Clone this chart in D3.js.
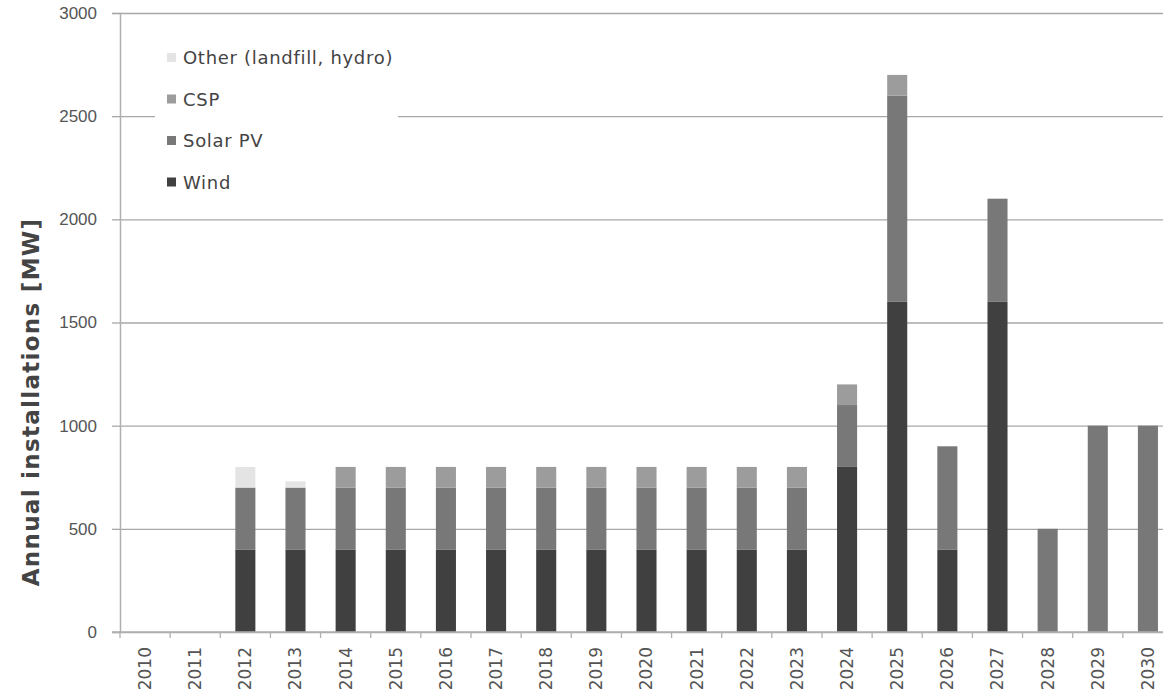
<!DOCTYPE html>
<html>
<head>
<meta charset="utf-8">
<script src="https://cdn.jsdelivr.net/npm/d3@7/dist/d3.min.js"></script>
<style>
  html, body { margin: 0; padding: 0; background: #fff; }
  svg { display: block; font-family: "DejaVu Sans", "Noto Sans", sans-serif; }
</style>
</head>
<body>
<svg id="chart" width="1163" height="697"></svg>
<script>
const years = ["2010","2011","2012","2013","2014","2015","2016","2017","2018","2019","2020",
               "2021","2022","2023","2024","2025","2026","2027","2028","2029","2030"];
const wind    = [0, 0, 400, 400, 400, 400, 400, 400, 400, 400, 400, 400, 400, 400, 800, 1600, 400, 1600, 0, 0, 0];
const solarPV = [0, 0, 300, 300, 300, 300, 300, 300, 300, 300, 300, 300, 300, 300, 300, 1000, 500, 500, 500, 1000, 1000];
const csp     = [0, 0, 0, 0, 100, 100, 100, 100, 100, 100, 100, 100, 100, 100, 100, 100, 0, 0, 0, 0, 0];
const other   = [0, 0, 100, 30, 0, 0, 0, 0, 0, 0, 0, 0, 0, 0, 0, 0, 0, 0, 0, 0, 0];
const seriesNames = ["Wind", "Solar PV", "CSP", "Other (landfill, hydro)"];
const seriesKeys = ["wind", "pv", "csp", "other"];
const seriesColors = ["#404040", "#787878", "#9c9c9c", "#e4e4e4"];
const yTicks = [0, 500, 1000, 1500, 2000, 2500, 3000];
const yLabel = "Annual installations [MW]";

const rows = years.map((y, i) => ({ year: y, wind: wind[i], pv: solarPV[i], csp: csp[i], other: other[i] }));
const stacked = d3.stack().keys(seriesKeys)(rows);

const svg = d3.select("#chart");
const x = d3.scaleBand().domain(years).range([120, 1173]).paddingInner(0.6).paddingOuter(0.3);
const xEdges = d3.scaleBand().domain(years).range([120, 1173]).padding(0);
const y = d3.scaleLinear().domain([0, 3000]).range([632, 13]);

// gridlines
svg.append("g")
  .attr("transform", "translate(120,0)")
  .call(d3.axisLeft(y).tickValues(yTicks).tickSize(-1100).tickFormat(""))
  .call(g => g.select(".domain").remove())
  .call(g => g.selectAll("line").attr("stroke", "#a8a8a8").attr("stroke-width", 1.3));

// y-axis ticks & labels
svg.append("g")
  .attr("transform", "translate(120,0)")
  .call(d3.axisLeft(y).tickValues(yTicks).tickSize(8).tickPadding(15).tickFormat(d3.format("d")))
  .call(g => g.select(".domain").attr("stroke", "#b0b0b0").attr("stroke-width", 1.5))
  .call(g => g.selectAll("line").attr("stroke", "#a8a8a8").attr("stroke-width", 1.3))
  .call(g => g.selectAll("text").attr("fill", "#555").style("font-size", "17px"));

// bars
svg.append("g").selectAll("g")
  .data(stacked).join("g")
  .attr("fill", (d, i) => seriesColors[i])
  .selectAll("rect")
  .data(d => d).join("rect")
  .attr("x", d => x(d.data.year))
  .attr("width", x.bandwidth())
  .attr("y", d => y(d[1]))
  .attr("height", d => y(d[0]) - y(d[1]));

// x axis
const xAxisG = svg.append("g").attr("transform", "translate(0,632)");
xAxisG.append("line").attr("x1", 112).attr("x2", 1163).attr("y1", 0).attr("y2", 0)
  .attr("stroke", "#b0b0b0").attr("stroke-width", 1.5);
xAxisG.selectAll("line.tk")
  .data(years).join("line").attr("class", "tk")
  .attr("x1", d => xEdges(d)).attr("x2", d => xEdges(d))
  .attr("y1", 0).attr("y2", 6)
  .attr("stroke", "#b0b0b0").attr("stroke-width", 1.3);
xAxisG.selectAll("text")
  .data(years).join("text")
  .attr("transform", d => `translate(${x(d) + x.bandwidth() / 2},15) rotate(-90)`)
  .attr("text-anchor", "end")
  .attr("dy", "0.35em")
  .attr("fill", "#555")
  .style("font-size", "17px")
  .text(d => d);

// y-axis title
svg.append("text")
  .attr("transform", "translate(31,402) rotate(-90)")
  .attr("text-anchor", "middle")
  .attr("dy", "0.35em")
  .attr("fill", "#444")
  .style("font-size", "23px")
  .style("letter-spacing", "1.3px")
  .style("font-weight", "bold")
  .text(yLabel);

// legend
const legend = svg.append("g");
legend.append("rect").attr("x", 155).attr("y", 30).attr("width", 243).attr("height", 175).attr("fill", "#fff");
const legendOrder = [3, 2, 1, 0];
legend.selectAll("g.item")
  .data(legendOrder).join("g").attr("class", "item")
  .attr("transform", (d, i) => `translate(167,${58 + i * 41.5})`)
  .each(function(d) {
    const g = d3.select(this);
    g.append("rect").attr("x", 0).attr("y", -5).attr("width", 9).attr("height", 9).attr("fill", seriesColors[d]);
    g.append("text").attr("x", 16).attr("dy", "0.35em").attr("fill", "#444")
      .style("font-size", "18px").style("letter-spacing", "0.7px").text(seriesNames[d]);
  });
</script>
</body>
</html>
